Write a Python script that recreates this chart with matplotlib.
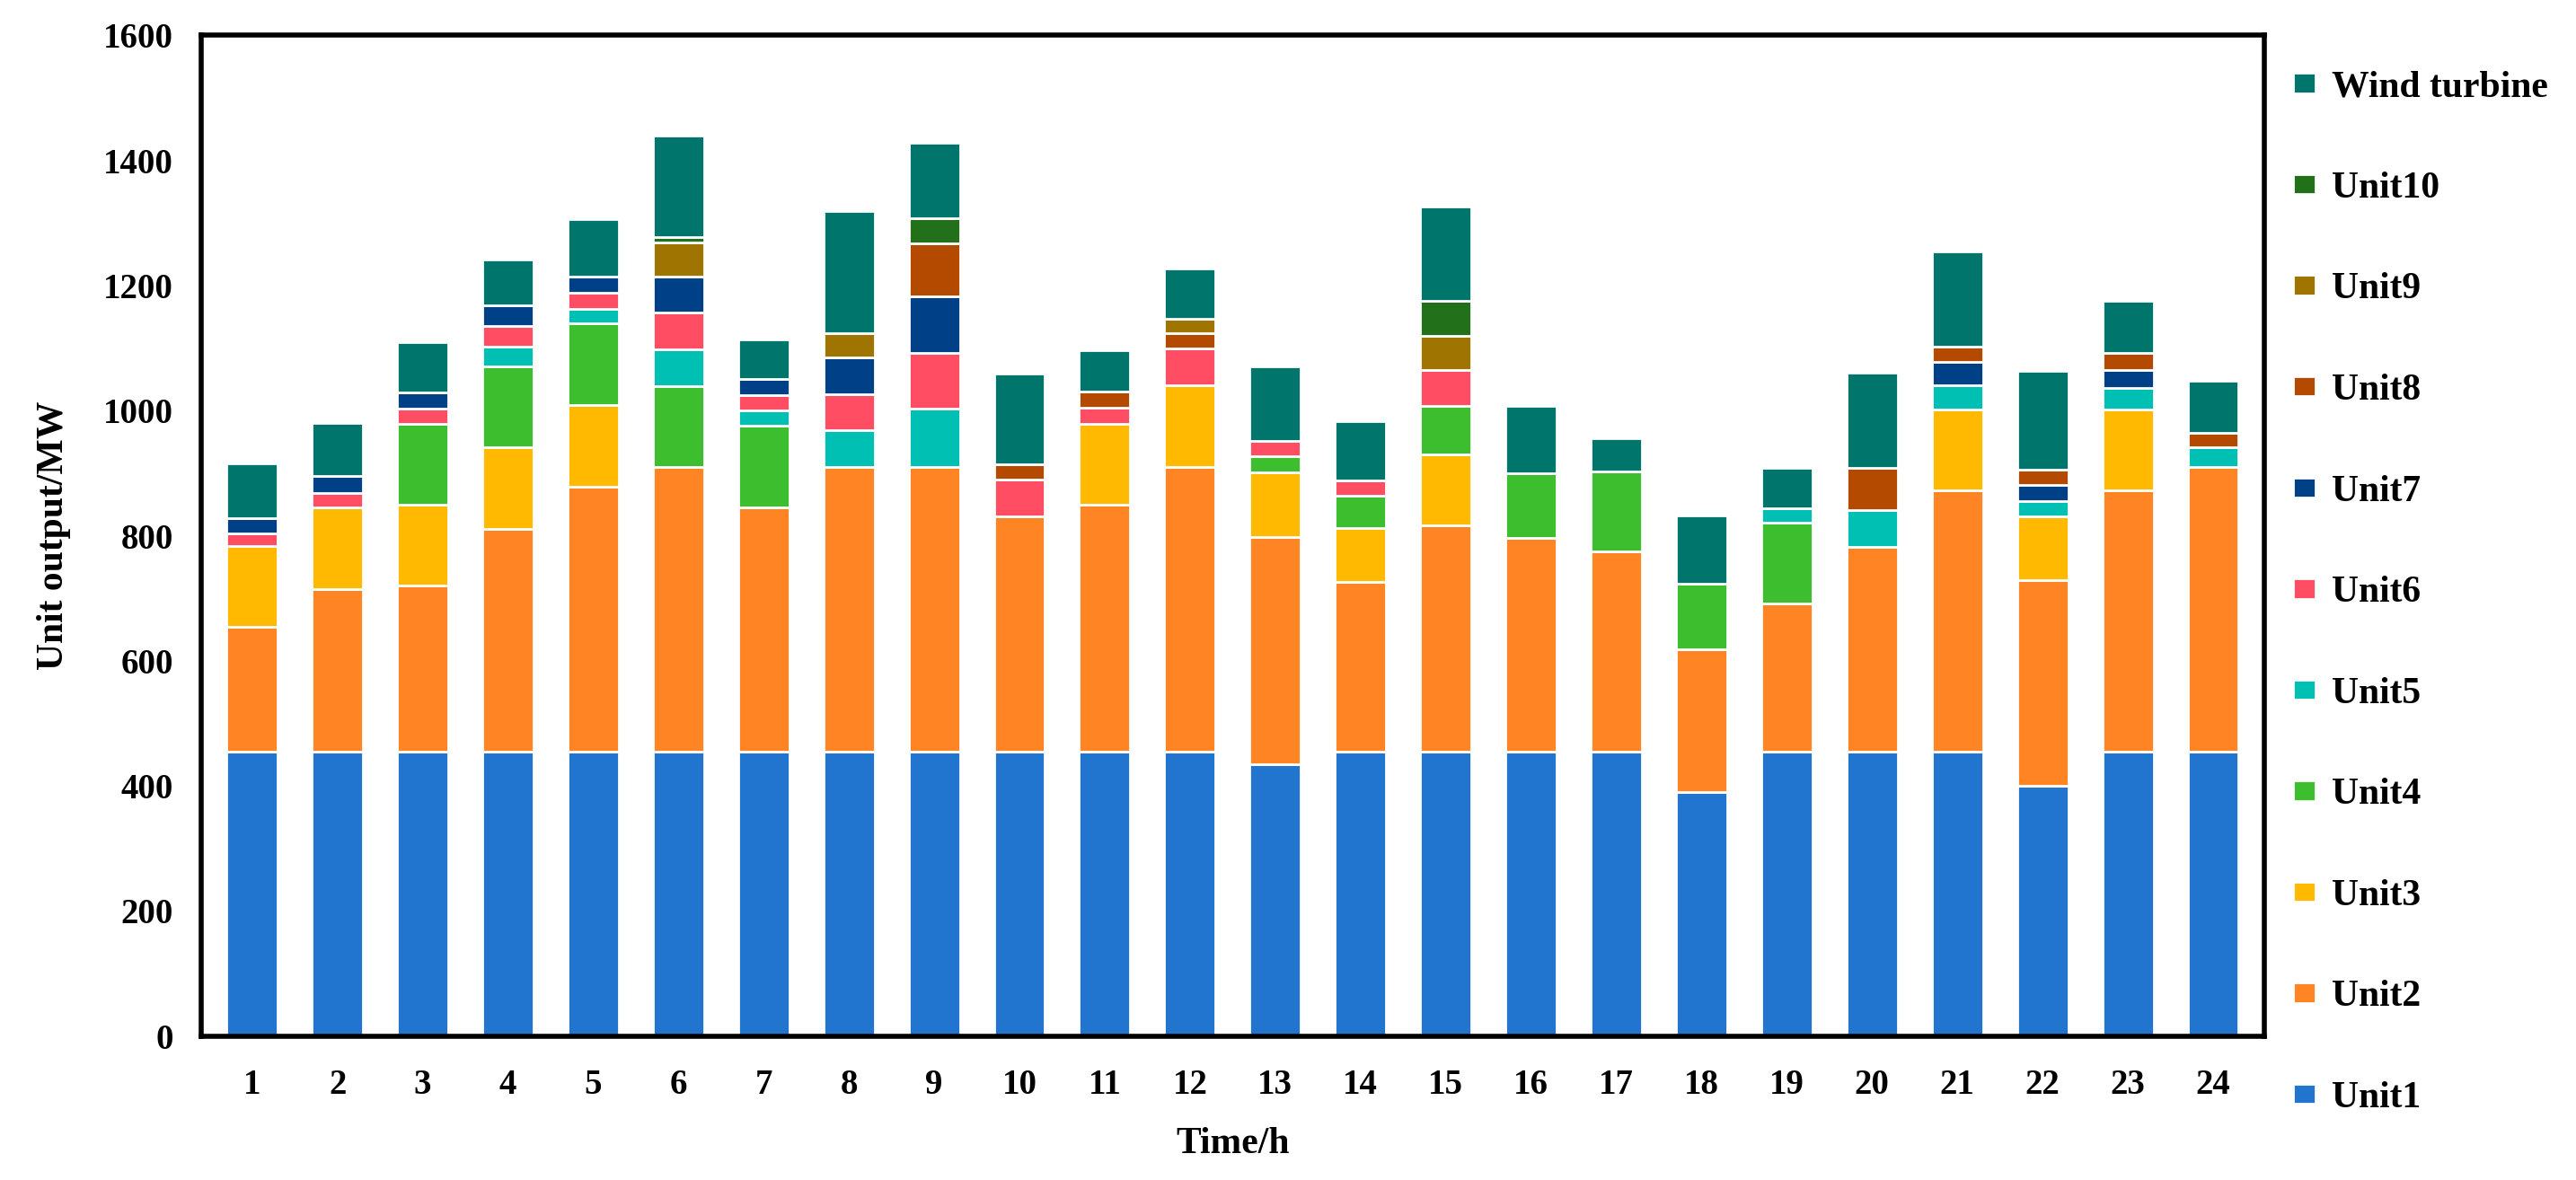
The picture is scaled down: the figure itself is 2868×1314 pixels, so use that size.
import numpy as np
import matplotlib
matplotlib.use("Agg")
import matplotlib.pyplot as plt

# ── data (MW per hour) ───────────────────────────────────────────────────────
hours = list(range(1, 25))

unit1 = [455, 455, 455, 455, 455, 455, 455, 455, 455, 455, 455, 455,
         435, 455, 455, 455, 455, 390, 455, 455, 455, 400, 455, 455]
unit2 = [200, 260, 266, 356, 424, 455, 391, 455, 455, 376, 394, 455,
         363, 271, 361, 342, 320, 229, 236, 327, 418, 329, 418, 455]
unit3 = [128, 130, 128, 130, 130, 0, 0, 0, 0, 0, 130, 130,
         104, 86, 114, 0, 0, 0, 0, 0, 129, 102, 129, 0]
unit4 = [0, 0, 130, 130, 130, 129, 130, 0, 0, 0, 0, 0,
         25, 52, 78, 103, 128, 104, 130, 0, 0, 0, 0, 0]
unit5 = [0, 0, 0, 32, 24, 59, 24, 59, 93, 0, 0, 0,
         0, 0, 0, 0, 0, 0, 23, 59, 39, 25, 34, 31]
unit6 = [21, 24, 24, 32, 26, 59, 25, 57, 89, 59, 25, 59,
         25, 25, 57, 0, 0, 0, 0, 0, 0, 0, 0, 0]
unit7 = [24, 26, 26, 34, 25, 57, 26, 59, 91, 0, 0, 0,
         0, 0, 0, 0, 0, 0, 0, 0, 37, 25, 29, 0]
unit8 = [0, 0, 0, 0, 0, 0, 0, 0, 85, 24, 27, 25,
         0, 0, 0, 0, 0, 0, 0, 68, 24, 24, 27, 24]
unit9 = [0, 0, 0, 0, 0, 55, 0, 39, 0, 0, 0, 23,
         0, 0, 55, 0, 0, 0, 0, 0, 0, 0, 0, 0]
unit10 = [0, 0, 0, 0, 0, 9, 0, 0, 40, 0, 0, 0,
          0, 0, 56, 0, 0, 0, 0, 0, 0, 0, 0, 0]
wind = [88, 85, 81, 73, 92, 162, 63, 195, 120, 145, 66, 80,
        119, 94, 151, 108, 53, 110, 64, 151, 153, 159, 84, 83]

names = ["Unit1", "Unit2", "Unit3", "Unit4", "Unit5", "Unit6",
         "Unit7", "Unit8", "Unit9", "Unit10", "Wind turbine"]
series = [unit1, unit2, unit3, unit4, unit5, unit6,
          unit7, unit8, unit9, unit10, wind]
colors = ["#2175CF", "#FF8424", "#FFB900", "#3DBE2F", "#00C0B4", "#FF4D63",
          "#004086", "#B34A00", "#A07400", "#22711A", "#00756C"]

plt.rcParams["font.family"] = ["Liberation Serif", "DejaVu Serif"]
plt.rcParams["font.weight"] = "bold"

fig = plt.figure(figsize=(14.34, 6.57), dpi=200)
ax = fig.add_axes([0.078, 0.122, 0.801, 0.848])

bottom = np.zeros(len(hours))
for name, vals, col in zip(names, series, colors):
    vals = np.array(vals, dtype=float)
    ax.bar(hours, vals, width=0.6, bottom=bottom, color=col,
           edgecolor="white", linewidth=1.0, label=name)
    bottom += vals

ax.set_xlim(0.4, 24.6)
ax.set_ylim(0, 1600)
ax.set_yticks(range(0, 1601, 200))
ax.set_xticks(hours)
ax.tick_params(axis="x", length=0, labelsize=14, pad=13)
ax.tick_params(axis="y", length=0, labelsize=14, pad=11)
for lab in ax.get_xticklabels() + ax.get_yticklabels():
    lab.set_fontweight("bold")
for sp in ax.spines.values():
    sp.set_linewidth(2.0)

ax.set_xlabel("Time/h", fontsize=15, fontweight="bold", labelpad=10)
ax.set_ylabel("Unit output/MW", fontsize=15, fontweight="bold", labelpad=13)

handles, labels = ax.get_legend_handles_labels()
fig.legend(handles[::-1], labels[::-1], loc="upper left",
           bbox_to_anchor=(0.877, 0.969), frameon=False,
           prop={"size": 15, "weight": "bold"},
           handlelength=0.6, handleheight=0.45, handletextpad=0.45,
           labelspacing=1.79)

fig.savefig("out.png", dpi=200)
